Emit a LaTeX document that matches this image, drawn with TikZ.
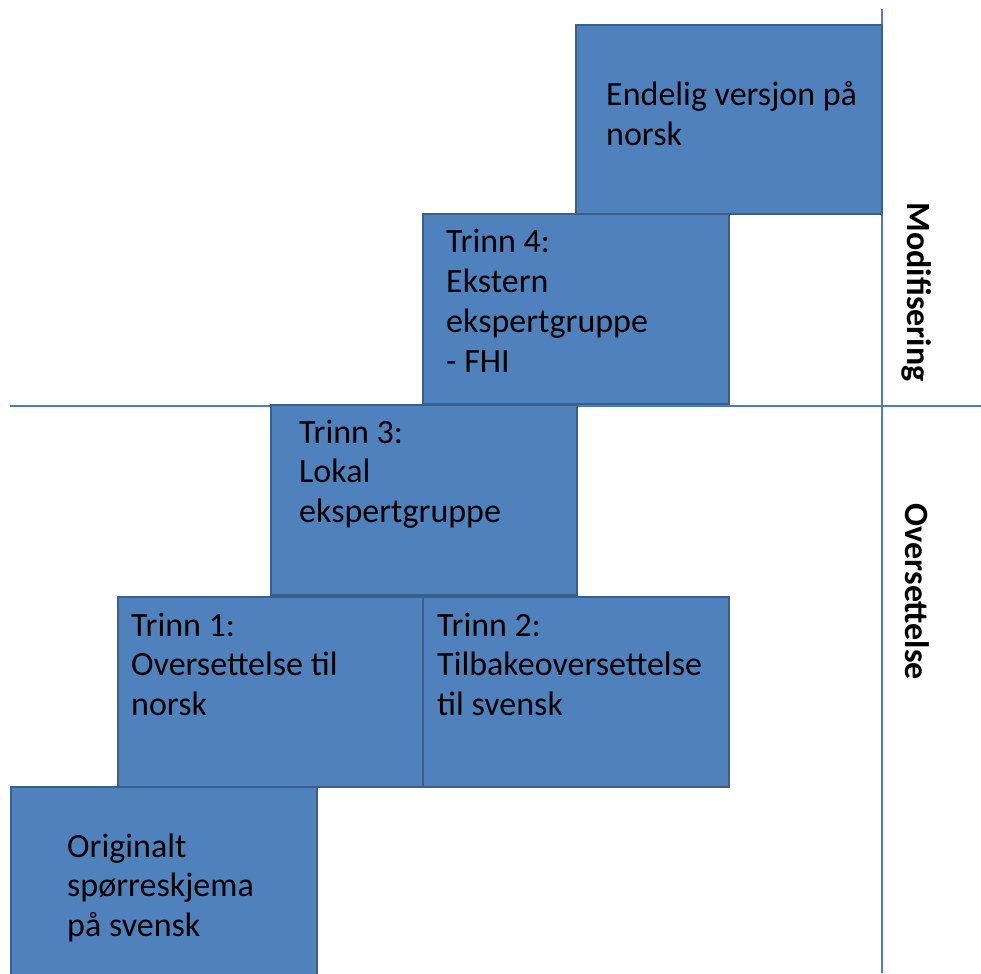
\documentclass[tikz,border=0pt]{standalone}
\usepackage{fontspec}
\setmainfont{Carlito}
\usepackage{xcolor}
\definecolor{vblue}{HTML}{4F81BD}
\definecolor{vborder}{HTML}{3A5F8C}
\definecolor{vline}{HTML}{4A7EBB}
\newcommand{\boxlines}[1]{\begin{tabular}[t]{@{}l@{}}#1\end{tabular}}

\begin{document}
\begin{tikzpicture}[x=1pt, y=-1pt,
	stepbox/.style={draw = vborder, line width = 2pt, fill = vblue, anchor = north west, minimum width = 306, minimum height = 190, inner sep = 0pt},
	boxtext/.style={anchor = base west, inner sep = 0pt, font = \fontsize{34}{39.8}\selectfont},
	sidetext/.style={rotate = -90, inner sep = 0pt, font = \fontsize{34}{39.8}\selectfont\bfseries}]
	\useasboundingbox (0,0) rectangle (981,973);
	% divider lines
	\coordinate (hl) at (10,406);
	\coordinate (hr) at (981,406);
	\coordinate (vt) at (882,9);
	\coordinate (vb) at (882,973);
	\draw[color = vline, line width = 1.5pt] (hl) -- (hr);
	\draw[color = vline, line width = 1.5pt] (vt) -- (vb);
	% boxes
	\node[stepbox] (o) at (10,786) {};
	\node[stepbox] (t1) at (117,596) {};
	\node[stepbox] (t2) at (422,596) {};
	\node[stepbox] (t3) at (270,404) {};
	\node[stepbox] (t4) at (422,213) {};
	\node[stepbox, minimum height = 189] (e) at (575,24) {};
	% texts
	\node[boxtext] (otxt) at ([shift={(57,71)}]o.north west) {\boxlines{Originalt\\spørreskjema\\på svensk}};
	\node[boxtext] (t1txt) at ([shift={(14,40)}]t1.north west) {\boxlines{Trinn 1:\\Oversettelse til\\norsk}};
	\node[boxtext] (t2txt) at ([shift={(15,40)}]t2.north west) {\boxlines{Trinn 2:\\Tilbakeoversettelse\\til svensk}};
	\node[boxtext] (t3txt) at ([shift={(29,39)}]t3.north west) {\boxlines{Trinn 3:\\Lokal\\ekspertgruppe}};
	\node[boxtext] (t4txt) at ([shift={(24,40)}]t4.north west) {\boxlines{Trinn 4:\\Ekstern\\ekspertgruppe\\- FHI}};
	\node[boxtext] (etxt) at ([shift={(31,82)}]e.north west) {\boxlines{Endelig versjon på\\norsk}};
	% side labels
	\node[sidetext] (mod) at (917,292) {Modifisering};
	\node[sidetext] (ovs) at (917,592) {Oversettelse};
\end{tikzpicture}
\end{document}
